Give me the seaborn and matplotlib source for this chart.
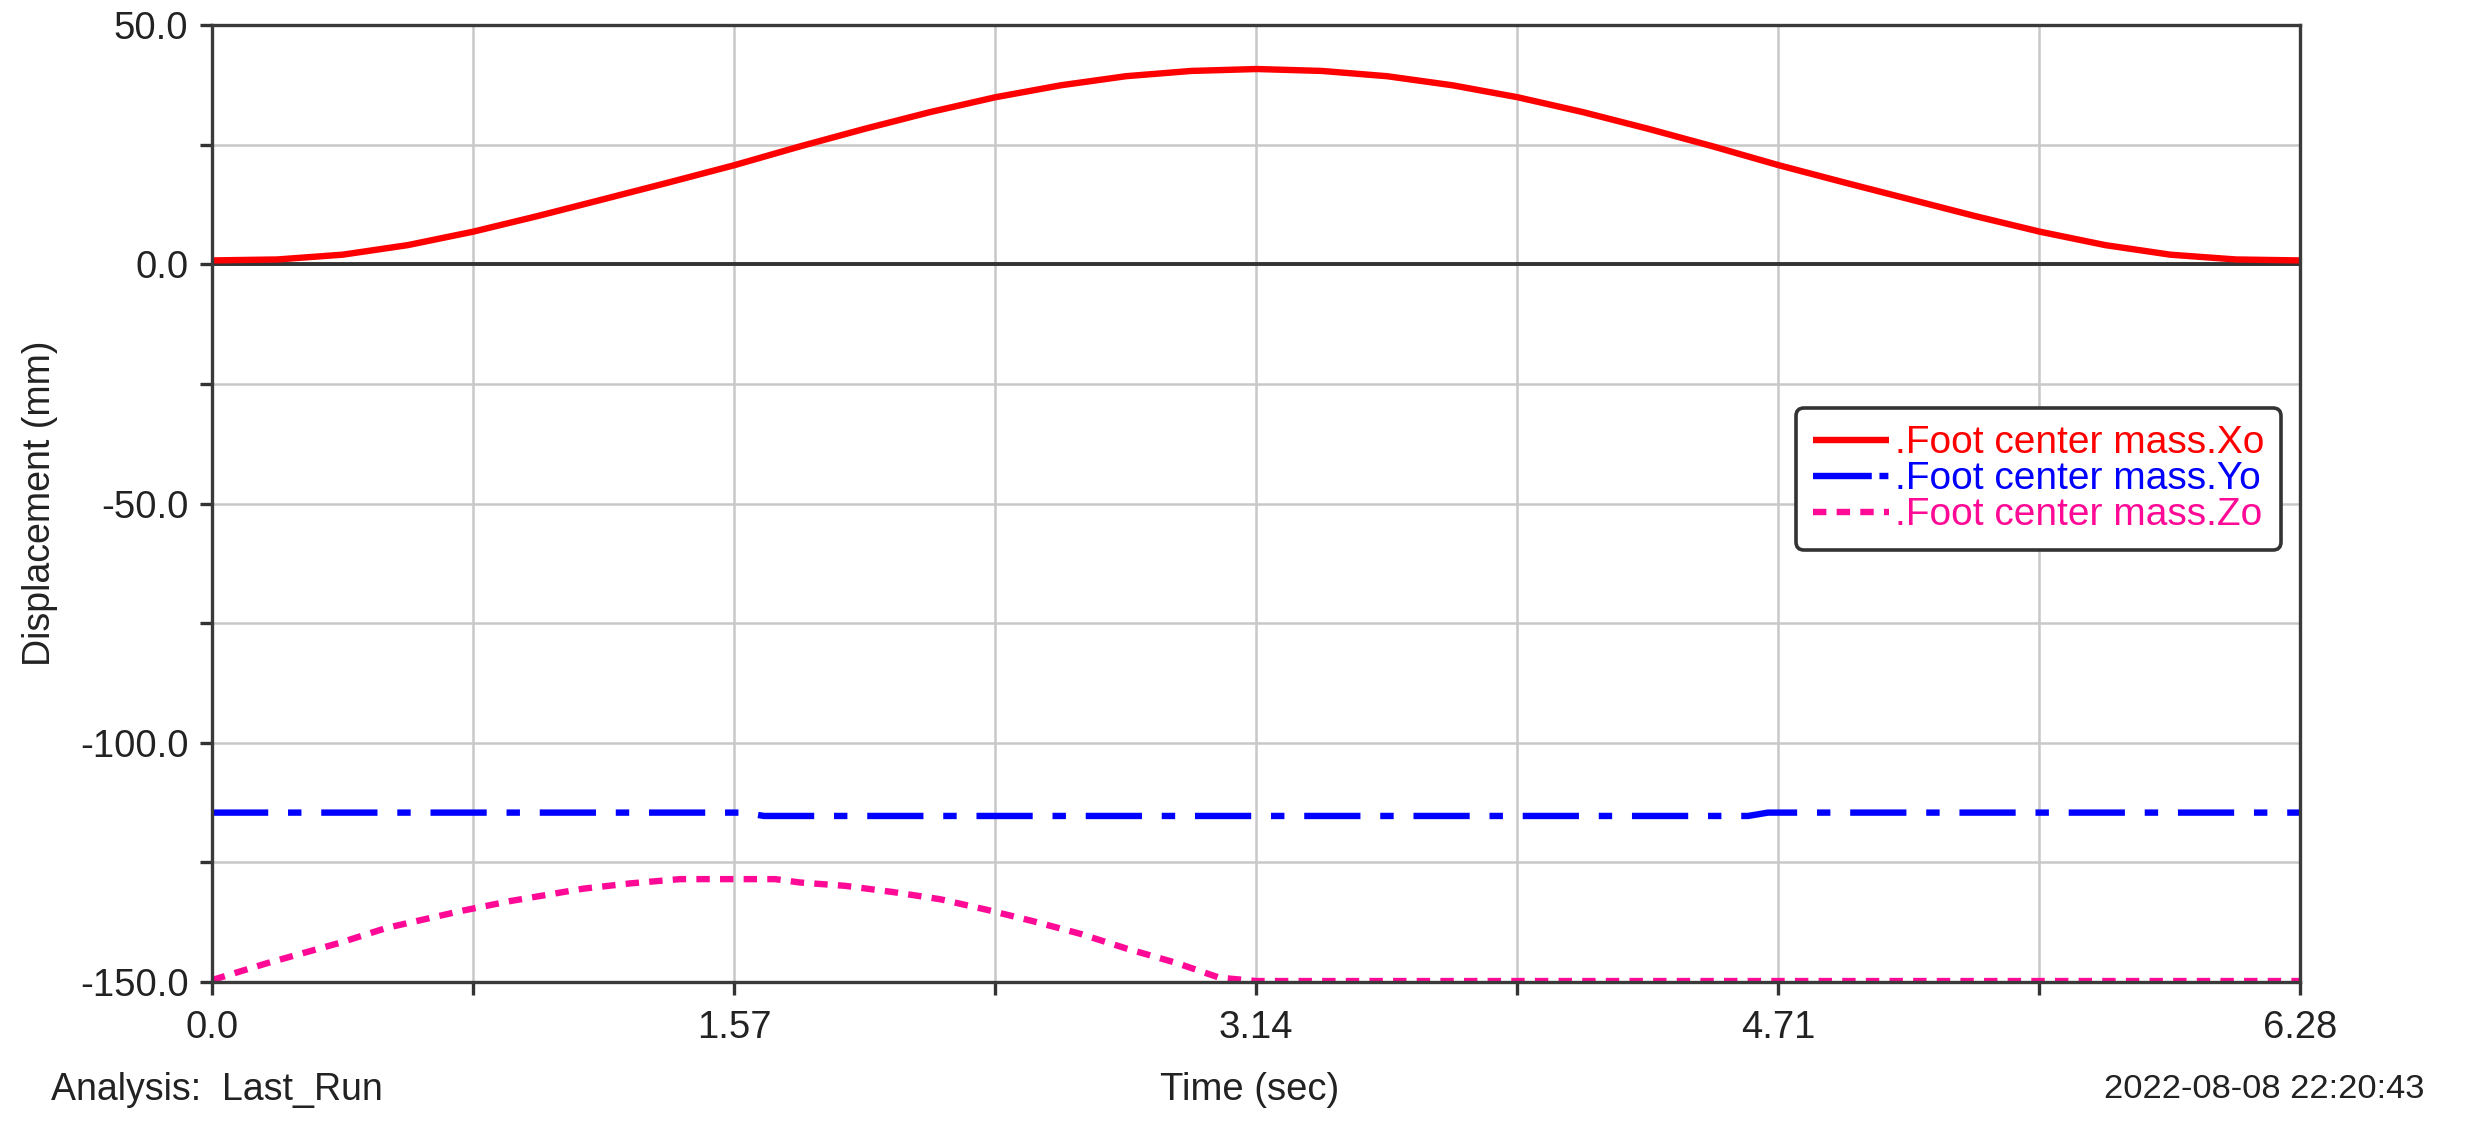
import numpy as np
import pandas as pd
import matplotlib
matplotlib.use("Agg")
import matplotlib.pyplot as plt
import seaborn as sns
from matplotlib.lines import Line2D

# ---------------- data ----------------
t_x = [0.0, 0.196, 0.393, 0.589, 0.785, 0.981, 1.178, 1.374, 1.571,
       1.767, 1.963, 2.160, 2.356, 2.553, 2.749, 2.945, 3.142,
       3.338, 3.534, 3.731, 3.927, 4.123, 4.320, 4.516, 4.712,
       4.909, 5.105, 5.301, 5.498, 5.694, 5.890, 6.087, 6.28]
x_o = [0.8, 1.0, 2.0, 4.0, 6.8, 10.1, 13.6, 17.1, 20.7,
       24.6, 28.3, 31.8, 34.9, 37.4, 39.3, 40.4, 40.8,
       40.4, 39.3, 37.4, 34.9, 31.8, 28.3, 24.6, 20.7,
       17.1, 13.6, 10.1, 6.8, 4.0, 2.0, 1.0, 0.8]

t_y = [0.0, 1.60, 1.66, 4.62, 4.68, 6.28]
y_o = [-114.6, -114.6, -115.3, -115.3, -114.6, -114.6]

t_z = [0.0, 0.164, 0.385, 0.525, 0.746, 0.896, 1.116, 1.257, 1.408, 1.571,
       1.693, 1.768, 1.904, 2.048, 2.190, 2.330, 2.470, 2.610, 2.750, 2.900,
       3.030, 3.142, 6.28]
z_o = [-149.6, -146.1, -141.8, -138.7, -135.2, -133.1, -130.5, -129.4, -128.5, -128.5,
       -128.5, -129.2, -129.9, -131.2, -132.7, -134.9, -137.3, -139.9, -143.0, -146.0,
       -149.1, -149.8, -149.8]

series_labels = [".Foot center mass.Xo", ".Foot center mass.Yo", ".Foot center mass.Zo"]
series_colors = ["#ff0000", "#0000ff", "#ff0a96"]

x_ticks = [0.0, 1.57, 3.14, 4.71, 6.28]
x_ticklabels = ["0.0", "1.57", "3.14", "4.71", "6.28"]
x_minor = [0.785, 2.355, 3.925, 5.495]
y_ticks = [50.0, 0.0, -50.0, -100.0, -150.0]
y_ticklabels = ["50.0", "0.0", "-50.0", "-100.0", "-150.0"]
y_minor = [25.0, -25.0, -75.0, -125.0]

# ---------------- style ----------------
sns.set_style("white")
plt.rcParams["font.family"] = ["Liberation Sans", "DejaVu Sans"]
plt.rcParams["axes.unicode_minus"] = False

W, H, DPI = 2480, 1124, 100
fig = plt.figure(figsize=(W / DPI, H / DPI), dpi=DPI)
ax = fig.add_axes([212 / W, 1 - 982 / H, (2300 - 212) / W, (982 - 25) / H])

lw = 4.6
df_x = pd.DataFrame({"t": t_x, "v": x_o})
df_y = pd.DataFrame({"t": t_y, "v": y_o})
df_z = pd.DataFrame({"t": t_z, "v": z_o})

dash_specs = [None, (8.8, 3.1, 2.1, 3.1), (2.1, 1.6)]
legend_dashes = [None, (9.2, 1.2, 1.4, 3.0), (2.1, 1.6)]
handles = []
for df, col, ds, lds in zip([df_x, df_y, df_z], series_colors, dash_specs, legend_dashes):
    n_before = len(ax.lines)
    sns.lineplot(data=df, x="t", y="v", ax=ax, color=col, linewidth=lw,
                 estimator=None, sort=False, zorder=5)
    line = ax.lines[n_before]
    line.set_solid_capstyle("butt")
    line.set_dash_capstyle("butt")
    line.set_solid_joinstyle("round")
    if ds is not None:
        line.set_dashes(ds)
    h = Line2D([], [], color=col, linewidth=lw, solid_capstyle="butt", dash_capstyle="butt")
    if lds is not None:
        h.set_dashes(lds)
    handles.append(h)

ax.axhline(0.0, color="#333333", linewidth=2.8, zorder=3)

ax.set_xlim(0, 6.28)
ax.set_ylim(-150, 50)
ax.set_xticks(x_ticks)
ax.set_xticklabels(x_ticklabels)
ax.set_xticks(x_minor, minor=True)
ax.set_yticks(y_ticks)
ax.set_yticklabels(y_ticklabels)
ax.set_yticks(y_minor, minor=True)

ax.grid(True, which="both", color="#c8c8c8", linewidth=1.8, zorder=0)
ax.set_axisbelow(True)
for sp in ax.spines.values():
    sp.set_color("#3a3a3a")
    sp.set_linewidth(2.4)
    sp.set_zorder(6)

ax.tick_params(axis="both", which="both", direction="out", length=9, width=2.4,
               color="#333333", labelsize=27.5, labelcolor="#222222", left=True, bottom=True)
ax.tick_params(axis="x", which="major", pad=11)
ax.tick_params(axis="y", which="major", pad=8)

ax.set_xlabel("")
ax.set_ylabel("Displacement (mm)", fontsize=27, color="#222222", labelpad=15.5)

leg = ax.legend(handles, series_labels, loc="upper left",
                bbox_to_anchor=((1796 - 212) / 2088, (982 - 408) / 957),
                borderaxespad=0, fontsize=28, frameon=True, fancybox=True,
                handlelength=1.95, handletextpad=0.15, labelspacing=0.0,
                borderpad=0.44, labelcolor=series_colors)
fr = leg.get_frame()
fr.set_edgecolor("#333333")
fr.set_linewidth(2.6)
fr.set_facecolor("white")
fr.set_alpha(1)
leg.set_zorder(10)

fig.text(51 / W, 1 - 1090 / H, "Analysis:  Last_Run", fontsize=27, color="#222222",
         ha="left", va="center")
fig.text(1250 / W, 1 - 1090 / H, "Time (sec)", fontsize=27.5, color="#222222",
         ha="center", va="center")
fig.text(2424 / W, 1 - 1090 / H, "2022-08-08 22:20:43", fontsize=24.8, color="#222222",
         ha="right", va="center")

fig.savefig("out.png", dpi=DPI, facecolor="white")
